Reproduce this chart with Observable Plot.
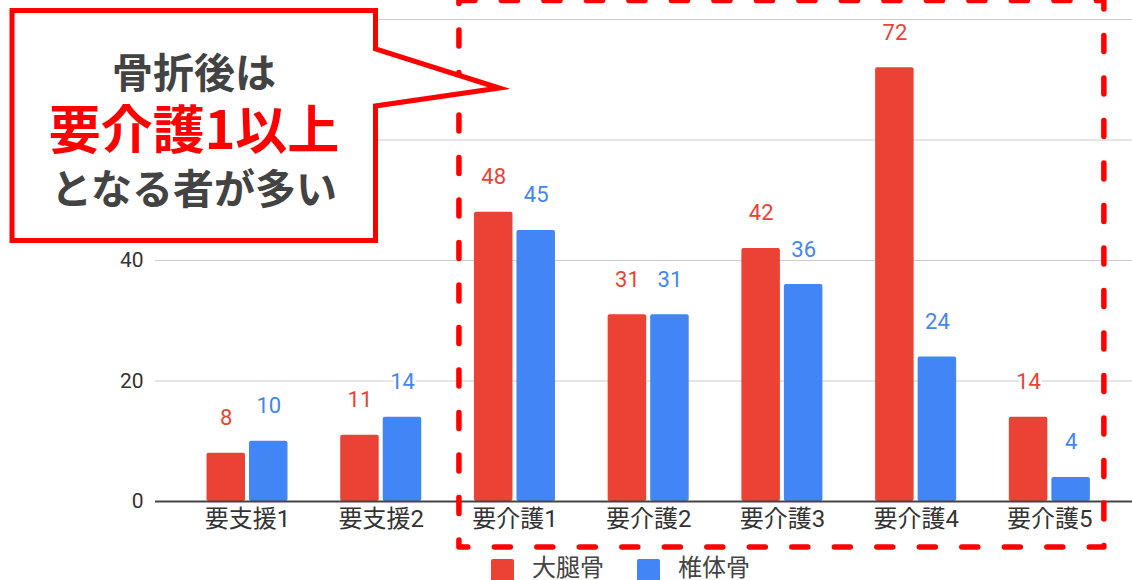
<!DOCTYPE html>
<html>
<head>
<meta charset="utf-8">
<script src="https://cdn.jsdelivr.net/npm/d3@7"></script>
<script src="https://cdn.jsdelivr.net/npm/@observablehq/plot@0.6"></script>
<style>
  html, body { margin: 0; padding: 0; background: #fff; }
  #chart { position: relative; width: 1132px; }
  #legend { position: relative; width: 1132px; height: 25px; font-family: Roboto, "Noto Sans CJK JP", sans-serif; font-size: 24px; color: #444; }
  #legend .sw { position: absolute; top: 4px; width: 23px; height: 23px; border-radius: 2px; }
  #legend .lb { position: absolute; top: 0px; line-height: 26px; white-space: nowrap; }
</style>
</head>
<body>
<div id="chart"></div>
<div id="legend"></div>
<script>
// ---- data ----
const categories = ["要支援1", "要支援2", "要介護1", "要介護2", "要介護3", "要介護4", "要介護5"];
const femur = [8, 11, 48, 31, 42, 72, 14];      // 大腿骨
const vertebra = [10, 14, 45, 31, 36, 24, 4];   // 椎体骨
const seriesNames = ["大腿骨", "椎体骨"];
const seriesColors = ["#ea4335", "#4285f4"];
const yGridTicks = [0, 20, 40, 60, 80];
const yLabelTicks = [0, 20, 40];   // 60 and 80 are hidden behind the callout in the reference
const calloutLines = ["骨折後は", "要介護1以上", "となる者が多い"];
const highlightFrom = "要介護1";
const highlightTo = "要介護5";

const rows = categories.flatMap((c, i) => [
  {category: c, series: seriesNames[0], value: femur[i]},
  {category: c, series: seriesNames[1], value: vertebra[i]}
]);
const femurRows = rows.filter(d => d.series === seriesNames[0]);
const vertRows = rows.filter(d => d.series === seriesNames[1]);

// ---- layout ----
const W = 1132, H = 555, ML = 155, MR = 0, MT = 19, MB = 54;
const pIn = 0.394, pOut = 0.35;
const step = (W - ML - MR) / (categories.length - pIn + 2 * pOut);
const bw = step * (1 - pIn);
const gap = 4;
const half = bw / 2;
const font = 'Roboto, "Noto Sans CJK JP", sans-serif';

const plot = Plot.plot({
  width: W, height: H,
  marginLeft: ML, marginRight: MR, marginTop: MT, marginBottom: MB,
  style: {fontFamily: font, background: "white", overflow: "visible"},
  x: {type: "band", domain: categories, paddingInner: pIn, paddingOuter: pOut, align: 0.55, round: false, label: null, axis: null},
  y: {domain: [0, 80], label: null, axis: null},
  marks: [
    Plot.gridY(yGridTicks, {stroke: "#cccccc", strokeOpacity: 1, strokeWidth: 1}),
    Plot.barY(femurRows, {x: "category", y: "value", fill: seriesColors[0], insetLeft: 0, insetRight: half + gap / 2, rx: 2}),
    Plot.barY(vertRows, {x: "category", y: "value", fill: seriesColors[1], insetLeft: half + gap / 2, insetRight: 0, rx: 2}),
    Plot.ruleY([0], {stroke: "#444", strokeWidth: 2}),
    Plot.text(femurRows, {x: "category", y: "value", text: d => String(d.value), fill: seriesColors[0],
      stroke: "white", strokeWidth: 6, dx: -(half + gap / 2) / 2, dy: -35, fontSize: 22, lineAnchor: "middle"}),
    Plot.text(vertRows, {x: "category", y: "value", text: d => String(d.value), fill: seriesColors[1],
      stroke: "white", strokeWidth: 6, dx: (half + gap / 2) / 2, dy: -35, fontSize: 22, lineAnchor: "middle"}),
    Plot.axisY(yLabelTicks, {tickSize: 0, tickPadding: 12, fontSize: 21, fill: "#333", label: null}),
    Plot.axisX({tickSize: 0, tickPadding: 8, fontSize: 24, fill: "#333", label: null})
  ]
});

document.getElementById("chart").appendChild(plot);

// ---- annotations ----
const xs = plot.scale("x");
const svg = d3.select(plot);
const ann = svg.append("g");

const rx0 = xs.apply(highlightFrom) - 15;
const rx1 = xs.apply(highlightTo) + xs.bandwidth + 14;
ann.append("rect")
  .attr("x", rx0).attr("y", 0.5)
  .attr("width", rx1 - rx0).attr("height", 547 - 0.5)
  .attr("fill", "none").attr("stroke", "#ff0000").attr("stroke-width", 5.5)
  .attr("stroke-dasharray", "16 26.5").attr("stroke-linecap", "round").attr("stroke-linejoin", "round");

ann.append("path")
  .attr("d", "M12,10.5 H375.5 V49 L499,88 L375.5,106 V240.5 H12 Z")
  .attr("fill", "white").attr("stroke", "#ff0000").attr("stroke-width", 5)
  .attr("stroke-linejoin", "miter").attr("stroke-miterlimit", 12);

const cx = 194;
const lineSpecs = [
  {y: 70, size: 41, fill: "#434343"},
  {y: 126.5, size: 52, fill: "#ff0000"},
  {y: 185.5, size: 41, fill: "#434343"}
];
calloutLines.forEach((t, i) => {
  ann.append("text")
    .attr("x", cx).attr("y", lineSpecs[i].y)
    .attr("text-anchor", "middle").attr("dominant-baseline", "central")
    .attr("font-family", '"Noto Sans CJK JP", sans-serif')
    .attr("font-weight", 700).attr("font-size", lineSpecs[i].size)
    .attr("fill", lineSpecs[i].fill)
    .text(t);
});

// ---- legend ----
const legend = d3.select("#legend");
const legendPos = [{sw: 491, lb: 532}, {sw: 637, lb: 678}];
seriesNames.forEach((name, i) => {
  legend.append("div").attr("class", "sw").style("left", legendPos[i].sw + "px").style("background", seriesColors[i]);
  legend.append("div").attr("class", "lb").style("left", legendPos[i].lb + "px").text(name);
});
</script>
</body>
</html>
